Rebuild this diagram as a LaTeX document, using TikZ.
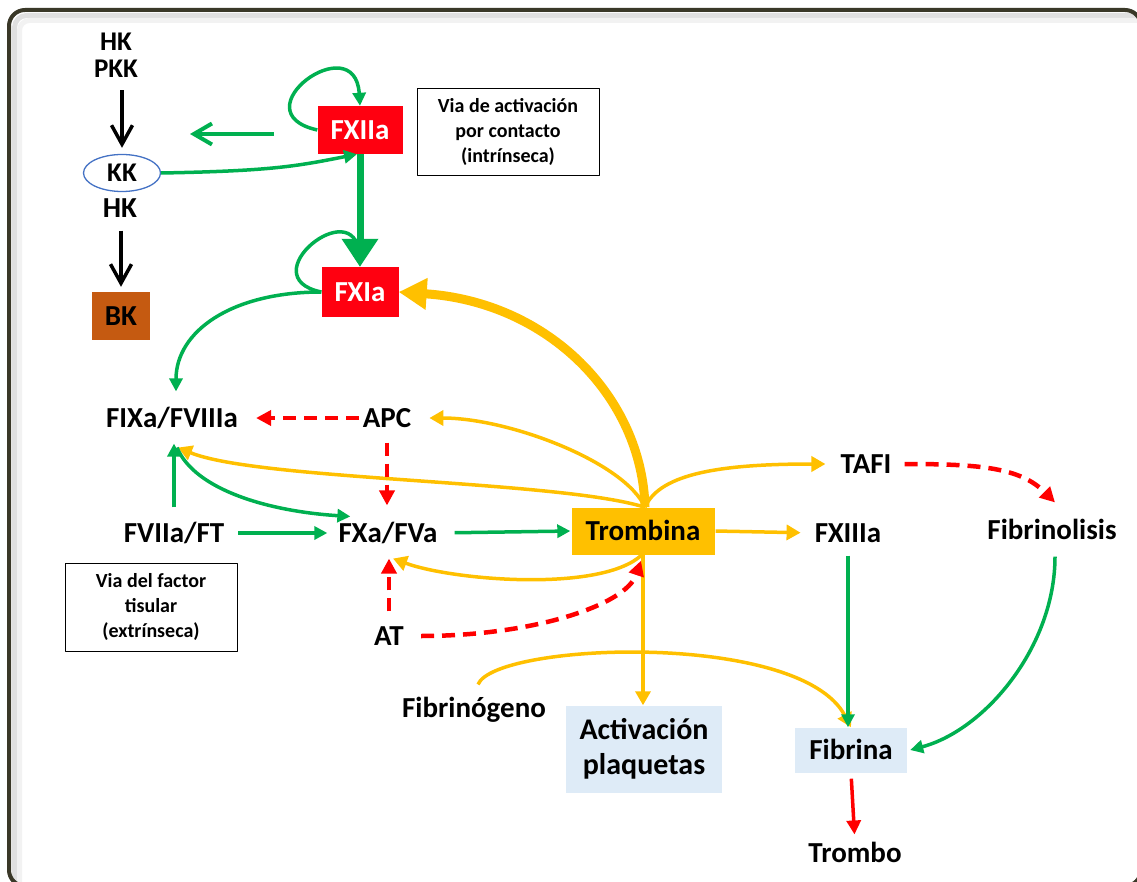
\documentclass[tikz,border=0pt]{standalone}
\usepackage{fontspec}
\setmainfont{Carlito}
\usetikzlibrary{arrows.meta,shapes.geometric}
\definecolor{grn}{RGB}{0,176,80}
\definecolor{gold}{RGB}{255,192,0}
\definecolor{fxred}{RGB}{255,0,16}
\definecolor{bkbrown}{RGB}{197,90,17}
\definecolor{lblue}{RGB}{222,235,247}
\definecolor{kkblue}{RGB}{68,114,196}
\definecolor{framec}{RGB}{58,56,40}
\begin{document}
\begin{tikzpicture}[x=1pt,y=-1pt,line join=round,
	font=\fontsize{29}{33}\selectfont\bfseries,
	tag/.style={inner sep=0pt,text height=18.7pt,text depth=0pt},
	redbox/.style={tag,fill=fxred,text=white},
	infobox/.style={draw=black,line width=1pt,align=center,inner sep=0pt,font=\fontsize{20}{25}\selectfont\bfseries},
	bluebox/.style={fill=lblue,inner sep=0pt},
	gline/.style={draw=grn,line width=3.5pt,-{Triangle[length=13pt,width=13pt]}},
	gheavy/.style={draw=grn,line width=7pt,-{Triangle[length=28pt,width=35pt]}},
	yline/.style={draw=gold,line width=3.5pt,-{Triangle[length=14pt,width=15pt]}},
	yheavy/.style={draw=gold,line width=9pt,-{Triangle[length=28pt,width=30pt]}},
	rdash/.style={draw=red,line width=4.5pt,dash pattern=on 13pt off 8pt,-{Triangle[length=15pt,width=15pt]}},
	rline/.style={draw=red,line width=3.5pt,-{Triangle[length=14pt,width=14pt]}},
	kline/.style={draw=black,line width=3.5pt,-{Straight Barb[length=19pt,width=21pt]}}]
	\useasboundingbox (0,0) rectangle (1137,882);
	% marco
	\draw[black!12,line width=5pt,rounded corners=12pt] (14.5,890) |- (1150,15.5);
	\draw[black!5,line width=5pt,rounded corners=10pt] (19.5,890) |- (1150,20.5);
	\draw[line width=4pt,framec,rounded corners=16pt] (9,10) rectangle (1141,886);
	% nodos
	\node[inner sep=0pt,align=center,font=\fontsize{27}{27}\selectfont\bfseries] (hkpkk) at (116,55) {HK\\PKK};
	\node[ellipse,draw=kkblue,line width=1.3pt,minimum width=77pt,minimum height=37pt,inner sep=0pt,font=\fontsize{27}{30}\selectfont\bfseries] (kk) at (122,173) {KK};
	\node[tag] (hkb) at (120,208) {HK};
	\node[tag,fill=bkbrown,minimum width=58pt,minimum height=48pt] (bk) at (121,316) {BK};
	\node[redbox,minimum width=85pt,minimum height=48pt] (fxiia) at (360,130) {FXIIa};
	\node[redbox,minimum width=77pt,minimum height=50pt] (fxia) at (360,292) {FXIa};
	\node[infobox,minimum width=182pt,minimum height=87pt] (viaint) at (508,132) {Via de activación\\por contacto\\(intrínseca)};
	\node[tag] (fixa) at (172,418) {FIXa/FVIIIa};
	\node[tag] (apc) at (387,418) {APC};
	\node[tag] (fviia) at (174,533) {FVIIa/FT};
	\node[tag] (fxa) at (388,533) {FXa/FVa};
	\node[tag,fill=gold,minimum width=143pt,minimum height=47pt] (trombina) at (643,531) {Trombina};
	\node[tag] (tafi) at (866,464) {TAFI};
	\node[tag] (fxiiia) at (848,533) {FXIIIa};
	\node[tag] (fibrinolisis) at (1052,530) {Fibrinolisis};
	\node[infobox,minimum width=172pt,minimum height=88pt] (viaext) at (151,607) {Via del factor\\tisular\\(extrínseca)};
	\node[tag] (at) at (389,636) {AT};
	\node[tag] (fibrinogeno) at (474,708) {Fibrinógeno};
	\node[bluebox,align=center,minimum width=156pt,minimum height=87pt,font=\fontsize{30}{35}\selectfont\bfseries] (plaq) at (644,749) {Activación\\plaquetas};
	\node[bluebox,tag,minimum width=112pt,minimum height=45pt] (fibrina) at (851,750) {Fibrina};
	\node[tag] (trombo) at (855,853) {Trombo};
	% via de contacto
	\draw[kline,shorten <=13pt,shorten >=6pt] (hkpkk.south -| kk.north) -- (kk.north);
	\draw[kline,shorten <=13pt,shorten >=5pt] (hkb.south -| bk.north) -- (bk.north);
	\draw[gline] (fxiia.west) .. controls +(-80,-18) and +(-5,-80) .. (fxiia.north);
	\coordinate (gfrom) at (274,134);
	\coordinate (gto) at (190,134);
	\draw[gline,line width=4pt,-{Straight Barb[length=18pt,width=21pt]}] (gfrom) -- (gto);
	\draw[gline] (kk.east) .. controls +(110,-2) and +(-60,12) .. ([xshift=-3pt]fxiia.south);
	\draw[gheavy] (fxiia.south) -- (fxia.north);
	\draw[gline] (fxia.west) .. controls +(-72,-15) and +(-5,-75) .. (fxia.north);
	\draw[gline] (fxia.west) .. controls +(-90,0) and +(0,-60) .. ([shift={(4,-17)}]fixa.north);
	% trombina
	\draw[yheavy] ([xshift=2pt]trombina.north) .. controls +(-3,-110) and +(150,10) .. (fxia.east);
	\draw[yline] ([xshift=2pt]trombina.north) .. controls +(-20,-45) and +(80,0) .. ([xshift=18pt]apc.east);
	\draw[yline] ([xshift=2pt]trombina.north) .. controls +(-85,-27) and +(80,33) .. ([shift={(6,20)}]fixa.south);
	\draw[yline] ([xshift=2pt]trombina.north) .. controls +(15,-35) and +(-100,0) .. ([xshift=-15pt]tafi.west);
	\draw[yline,shorten <=1pt,shorten >=14pt] (trombina.east) -- (fxiiia.west);
	\draw[yline] ([xshift=-1pt]trombina.south) .. controls +(-40,38) and +(60,22) .. ([shift={(5,16)}]fxa.south);
	\draw[yline] (trombina.south) -- (trombina.south |- plaq.north);
	\draw[yline] ([shift={(4,-14)}]fibrinogeno.north) .. controls +(17,-42) and +(-51,-97) .. (fibrina.north);
	% via extrinseca
	\draw[gline,shorten <=14pt,shorten >=11pt] (fviia.east) -- (fxa.west);
	\draw[gline,shorten <=16pt,shorten >=16pt] (fviia.north) -- (fviia.north |- fixa.south);
	\draw[gline] ([shift={(5,20)}]fixa.south) .. controls +(18,43) and +(-80,-5) .. ([shift={(12,-7)}]fxa.north west);
	\draw[gline,shorten <=17pt,shorten >=1pt] (fxa.east) -- (trombina.west);
	\draw[gline,shorten <=13pt] (fxiiia.south) -- (fxiiia.south |- fibrina.north);
	\draw[gline] ([shift={(3,17)}]fibrinolisis.south) .. controls +(0,90) and +(75,-20) .. ([xshift=3pt]fibrina.east);
	% inhibidores
	\draw[rdash,shorten <=4pt,shorten >=18pt] (apc.west) -- (fixa.east);
	\draw[rdash,shorten <=15pt,shorten >=18pt] (apc.south) -- (apc.south |- fxa.north);
	\draw[rdash,shorten <=15pt,shorten >=16pt] (at.north) -- (at.north |- fxa.south);
	\draw[rdash] ([xshift=17pt]at.east) .. controls +(110,0) and +(-15,45) .. ([shift={(-2,6)}]trombina.south);
	\draw[rdash] ([xshift=13pt]tafi.east) .. controls +(75,0) and +(-35,-35) .. ([shift={(3,-18)}]fibrinolisis.north);
	\draw[rline,shorten <=6pt,shorten >=9pt] (fibrina.south) -- (trombo.north);
\end{tikzpicture}
\end{document}
